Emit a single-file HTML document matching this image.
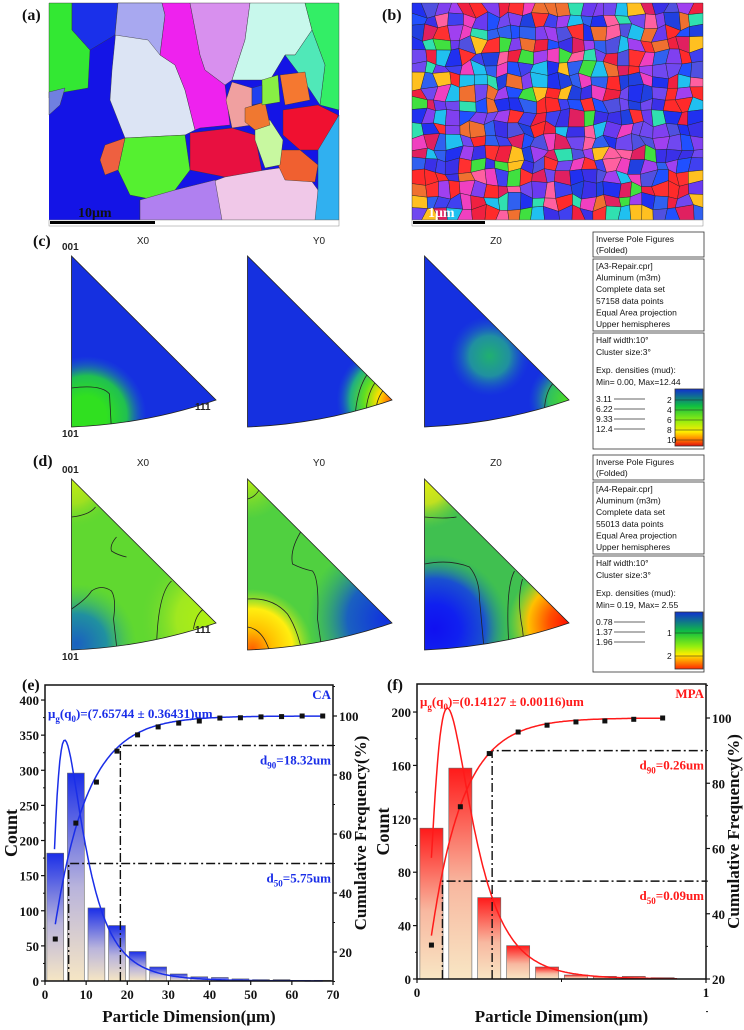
<!DOCTYPE html>
<html><head><meta charset="utf-8"><style>
html,body{margin:0;padding:0;background:#fff;}
svg{display:block;}
.lbl{font-family:"Liberation Serif",serif;font-weight:bold;}
.ss{font-family:"Liberation Sans",sans-serif;}
</style></head><body>
<svg id="fig" xmlns="http://www.w3.org/2000/svg" width="744" height="1030" viewBox="0 0 744 1030">
<defs>
<linearGradient id="gBlue" x1="0" y1="0" x2="0" y2="1"><stop offset="0" stop-color="#1a2ee8"/><stop offset="0.55" stop-color="#b9b4dc"/><stop offset="1" stop-color="#f6e6c4"/></linearGradient>
<linearGradient id="gRed" x1="0" y1="0" x2="0" y2="1"><stop offset="0" stop-color="#ff1a1a"/><stop offset="0.55" stop-color="#f8b8a0"/><stop offset="1" stop-color="#f8e6c4"/></linearGradient>
<linearGradient id="cbar1" x1="0" y1="0" x2="0" y2="1"><stop offset="0" stop-color="#1030d0"/><stop offset="0.3" stop-color="#10c040"/><stop offset="0.55" stop-color="#90ee10"/><stop offset="0.75" stop-color="#ffee00"/><stop offset="0.9" stop-color="#ff7000"/><stop offset="1" stop-color="#e01010"/></linearGradient>
<linearGradient id="cbar2" x1="0" y1="0" x2="0" y2="1"><stop offset="0" stop-color="#1030d0"/><stop offset="0.35" stop-color="#10c040"/><stop offset="0.6" stop-color="#90ee10"/><stop offset="0.75" stop-color="#ffee00"/><stop offset="1" stop-color="#ff2a00"/></linearGradient>
</defs>
<g id="mapA"></g>
<g id="mapB"></g>
<g id="ipf"></g>
<g id="chartE"></g>
<g id="chartF"></g>
</svg>
<script>
// ---- Chart (e) data ----
const eBinCenters = [2.5,7.5,12.5,17.5,22.5,27.5,32.5,37.5,42.5,47.5,52.5,57.5,62.5,67.5];
const eCounts = [182,296,104,79,42,20,10,6,5,3,2,2,1,1];
const eCumX = [2.5,7.5,12.5,17.5,22.5,27.5,32.5,37.5,42.5,47.5,52.5,57.5,62.5,67.5];
const eCumY = [24.4,63.7,77.6,88.1,93.6,96.3,97.6,98.3,99.3,99.4,99.7,99.8,100,100];
const eXTicks = [0,10,20,30,40,50,60,70];
const eYTicks = [0,50,100,150,200,250,300,350,400];
const eRTicks = [20,40,60,80,100];
const eD50 = 5.75, eD90 = 18.32;
// ---- Chart (f) data ----
const fBinCenters = [0.05,0.15,0.25,0.35,0.45,0.55,0.65,0.75,0.85];
const fCounts = [113,158,61,25,9,3,2,2,1];
const fCumX = [0.05,0.15,0.25,0.35,0.45,0.55,0.65,0.75,0.85];
const fCumY = [30.4,72.8,89.1,95.7,97.8,98.8,99.1,99.6,100];
const fXTicks = [0,1];
const fYTicks = [0,40,80,120,160,200];
const fRTicks = [20,40,60,80,100];
const fD50 = 0.088, fD90 = 0.26;

const NS='http://www.w3.org/2000/svg';
function mk(parent,tag,attrs,text){const e=document.createElementNS(NS,tag);for(const k in attrs)e.setAttribute(k,attrs[k]);if(text!==undefined)e.textContent=text;parent.appendChild(e);return e;}

let seed=12345;function rnd(){seed=(seed*16807)%2147483647;return seed/2147483647;}

const fig=document.getElementById('fig');
[['(a)',22,20],['(b)',382,20],['(c)',33,246],['(d)',33,466],['(e)',22,690],['(f)',387,690]].forEach(p=>{
 const t=mk(fig,'text',{x:p[1],y:p[2],class:'lbl','font-size':16,fill:'#111'},p[0]);
 
 
});

// ---------- map A ----------
const mA=document.getElementById('mapA');
mk(mA,'rect',{x:49,y:3,width:290,height:217,fill:'#1414e6'});
const grainsA=[
['49,3 72,3 72,30 90,50 88,88 65,92 49,98','#33e833'],
['72,3 118,3 115,35 90,50 72,30','#1a30ea'],
['49,92 65,88 60,105 49,115','#7080e0'],
['118,3 162,3 165,15 160,55 175,65 185,90 195,130 185,135 125,138 110,100 112,70 115,40','#dce4f4'],
['118,3 162,3 165,15 160,55 148,40 115,35','#a8a8f0'],
['162,3 190,3 200,55 205,70 225,85 230,125 200,128 195,130 185,90 175,65 160,55 165,15','#ee22ee'],
['190,3 250,3 245,40 232,80 225,85 205,70 200,55','#d890ee'],
['250,3 305,3 312,30 295,55 285,55 270,80 232,80 245,40','#c8f8ec'],
['305,3 339,3 339,110 320,105 325,65 312,30','#33ee66'],
['312,30 325,65 320,105 300,75 285,55 295,55','#50e8b8'],
['232,82 252,88 252,125 232,128 226,100','#f0a0a0'],
['190,133 232,128 255,135 262,172 225,177 190,170','#e81040'],
['125,138 185,135 190,170 175,190 155,200 130,195 118,170','#55f030'],
['105,145 125,138 118,170 105,175 100,160','#ee6040'],
['140,200 190,190 225,177 265,170 300,165 318,190 318,220 140,220','#f0c8e8'],
['140,200 175,190 215,180 222,220 140,220','#b080f0'],
['283,110 318,105 338,115 330,150 300,150 283,135','#f01030'],
['278,150 300,150 318,165 315,182 285,180 278,165','#f06030'],
['255,125 270,120 283,140 280,165 265,168 255,140','#c8f8a0'],
['280,75 305,72 310,100 285,105','#f57830'],
['245,108 265,102 270,125 255,130 245,122','#f07830'],
['262,80 278,75 280,102 262,105','#88ee44'],
['318,150 339,115 339,220 315,220 318,190','#30b0f0'],
['252,88 262,85 262,103 252,105','#2040f0']];
grainsA.forEach(g=>mk(mA,'polygon',{points:g[0],fill:g[1],stroke:'#333','stroke-width':0.4}));
mk(mA,'rect',{x:49,y:220,width:290,height:6,fill:'#fff',stroke:'#888','stroke-width':0.5});
mk(mA,'rect',{x:50,y:221,width:105,height:3,fill:'#000'});
mk(mA,'text',{x:78,y:217,class:'lbl','font-size':14,fill:'#111'},'10μm');

// ---------- map B ----------
const mB=document.getElementById('mapB');
const pal=['#2030f0','#4040f0','#6a3af0','#8040f0','#f02040','#ff3030','#f040c0','#ff60a0','#3060f0','#f07030','#20c0f0','#40e040','#a040f0','#2050ff','#e02060','#ffc020','#30e0b0','#5050e0','#3a30e8','#7048f0','#ff2a2a','#2040e0'];
mk(mB,'rect',{x:412,y:3,width:291,height:217,fill:'#3040e0'});
const nx=24,ny=18,cw=291/nx,ch=217/ny;const V=[];
for(let j=0;j<=ny;j++){V[j]=[];for(let i=0;i<=nx;i++){let x=412+i*cw,y=3+j*ch;if(i>0&&i<nx)x+=(rnd()-0.5)*cw*0.6;if(j>0&&j<ny)y+=(rnd()-0.5)*ch*0.6;V[j][i]=[x,y];}}
for(let j=0;j<ny;j++)for(let i=0;i<nx;i++){
 const c=pal[Math.floor(rnd()*pal.length)];
 const p=[V[j][i],V[j][i+1],V[j+1][i+1],V[j+1][i]].map(v=>v[0].toFixed(1)+','+v[1].toFixed(1)).join(' ');
 mk(mB,'polygon',{points:p,fill:c,stroke:'#222','stroke-width':0.4});
}
mk(mB,'rect',{x:412,y:220,width:291,height:6,fill:'#fff',stroke:'#888','stroke-width':0.5});
mk(mB,'rect',{x:413,y:221,width:72,height:3,fill:'#000'});
mk(mB,'text',{x:428,y:217,class:'lbl','font-size':14,fill:'#fff'},'1μm');

// ---------- IPF ----------
const ipf=document.getElementById('ipf');
function tri(ox,oy){return `M${ox},${oy} L${ox+144.5},${oy+144} Q${ox+75},${oy+168} ${ox},${oy+171} Z`;}
let cid=0;
function drawTri(ox,oy,base,blobs,cont){
 const id='clip'+(cid++);
 const cp=mk(ipf,'clipPath',{id:id});mk(cp,'path',{d:tri(ox,oy)});
 const g=mk(ipf,'g',{'clip-path':`url(#${id})`});
 mk(g,'rect',{x:ox,y:oy,width:150,height:175,fill:base});
 blobs.forEach(b=>{
  const gid='rg'+(cid++);
  const rg=mk(ipf,'radialGradient',{id:gid});
  b[3].forEach((c,k)=>mk(rg,'stop',{offset:(k/(b[3].length-1)).toFixed(2),'stop-color':c,'stop-opacity':k==b[3].length-1?0:1}));
  mk(g,'circle',{cx:ox+b[0],cy:oy+b[1],r:b[2],fill:`url(#${gid})`});
 });
 (cont||[]).forEach(d=>mk(g,'path',{d:d,fill:'none',stroke:'#222','stroke-width':0.8,transform:`translate(${ox},${oy})`}));
 mk(ipf,'path',{d:tri(ox,oy),fill:'none',stroke:'#222','stroke-width':0.8});
}
const cy0=256, dy0=479, offs=[0,176,353];
drawTri(71.5,cy0,'#1530e0',[[15,160,60,['#30e020','#30e020','#20c050','#1a60d0']]],['M0,132 Q30,128 38,138 L40,175']);
drawTri(71.5+176,cy0,'#1530e0',[[144,144,18,['#ff2000','#ff8000','#ffee00']],[144,144,55,['#ff6000','#ffe000','#60e020','#20b080','#1a50d0']]],
 ['M120,118 Q108,135 107,170','M128,126 Q118,140 118,165','M136,134 Q128,144 128,160']);
drawTri(71.5+353,cy0,'#1530e0',[[65,100,40,['#20b070','#2090a0','#1a50d0']],[144,144,40,['#50e020','#30c060','#1a60d0']]],['M128,128 Q118,140 120,170']);
drawTri(71.5,dy0,'#60d830',[[0,0,50,['#c0ee10','#a0e020','#60d830']],[5,165,60,['#1a60c0','#2090a0','#40c060']],[140,140,70,['#b0f010','#a0e820','#70d830']]],
 ['M0,38 Q18,36 24,28','M45,58 Q38,66 40,72 Q46,76 55,78','M0,130 Q15,120 20,112 Q30,105 40,112 Q45,120 42,140 L46,175','M100,102 Q86,115 85,170','M132,130 Q124,136 122,150']);
drawTri(71.5+176,dy0,'#50d040',[[0,0,40,['#c0ee10','#90e020']],[5,170,60,['#ff6000','#ffc000','#ffee10','#b0e820']],[140,140,80,['#1030e0','#1a60c0','#20a080']]],
 ['M0,20 Q8,18 12,10','M55,50 Q42,70 45,85 Q55,90 65,92 Q72,100 70,140 L75,175','M0,120 Q25,118 40,135 Q50,150 55,175','M0,148 Q15,150 22,172']);
drawTri(71.5+353,dy0,'#40c050',[[0,0,50,['#e0ee10','#c0e020','#60d040']],[10,150,75,['#1010f0','#1020f0','#1a50d0','#20a080']],[144,144,60,['#ff1000','#ff5000','#ffc000','#b0e820']]],
 ['M0,38 Q20,40 32,38','M0,85 Q25,80 45,88 Q55,100 55,120 L60,175','M90,92 Q80,110 85,175','M98,100 Q92,120 98,150 L100,170']);
['X0','Y0','Z0'].forEach((t,k)=>{
 mk(ipf,'text',{x:143+offs[k],y:244,class:'ss','font-size':10,fill:'#222','text-anchor':'middle'},t);
 mk(ipf,'text',{x:143+offs[k],y:466,class:'ss','font-size':10,fill:'#222','text-anchor':'middle'},t);
});
mk(ipf,'text',{x:62,y:250,class:'ss','font-size':10,'font-weight':'bold',fill:'#222'},'001');
mk(ipf,'text',{x:62,y:473,class:'ss','font-size':10,'font-weight':'bold',fill:'#222'},'001');
mk(ipf,'text',{x:62,y:437,class:'ss','font-size':10,'font-weight':'bold',fill:'#222'},'101');
mk(ipf,'text',{x:62,y:660,class:'ss','font-size':10,'font-weight':'bold',fill:'#222'},'101');
mk(ipf,'text',{x:195,y:410,class:'ss','font-size':10,'font-weight':'bold',fill:'#222'},'111');
mk(ipf,'text',{x:195,y:633,class:'ss','font-size':10,'font-weight':'bold',fill:'#222'},'111');
function legend(y0,file,pts,minmax,levels,cb,cbLabels){
 const g=mk(ipf,'g',{});
 
 
 const T=(x,y,s)=>mk(g,'text',{x:x,y:y,class:'ss','font-size':8.5,fill:'#111'},s);
 mk(g,'rect',{x:593,y:y0,width:111,height:25,fill:'#fff',stroke:'#333','stroke-width':0.8});
 T(596,y0+10,'Inverse Pole Figures');T(596,y0+21,'(Folded)');
 mk(g,'rect',{x:593,y:y0+27,width:111,height:72,fill:'#fff',stroke:'#333','stroke-width':0.8});
 [file,'Aluminum (m3m)','Complete data set',pts+' data points','Equal Area projection','Upper hemispheres'].forEach((s,k)=>T(596,y0+37+k*11.6,s));
 mk(g,'rect',{x:593,y:y0+101,width:111,height:116,fill:'#fff',stroke:'#333','stroke-width':0.8});
 T(596,y0+111,'Half width:10°');T(596,y0+123,'Cluster size:3°');T(596,y0+141,'Exp. densities (mud):');T(596,y0+153,minmax);
 levels.forEach((s,k)=>{T(596,y0+170+k*10,s);mk(g,'line',{x1:614,x2:645,y1:y0+167+k*10,y2:y0+167+k*10,stroke:'#333','stroke-width':0.8});});
 mk(g,'rect',{x:675,y:y0+157,width:28,height:57,fill:cb,stroke:'#333','stroke-width':0.8});
 cbLabels.forEach(l=>{T(667,y0+157+l[1]+3,l[0]);mk(g,'line',{x1:675,x2:703,y1:y0+157+l[1],y2:y0+157+l[1],stroke:'#222','stroke-width':0.6});});
}
legend(232,'[A3-Repair.cpr]','57158','Min= 0.00, Max=12.44',['3.11','6.22','9.33','12.4'],'url(#cbar1)',[['2',11],['4',21],['6',31],['8',41],['10',51]]);
legend(455,'[A4-Repair.cpr]','55013','Min= 0.19, Max= 2.55',['0.78','1.37','1.96'],'url(#cbar2)',[['1',21],['2',44]]);

// ---------- charts ----------
function chart(gid,o){
 const G=document.getElementById(gid);
 const X=v=>o.x0+(v-o.xmin)/(o.xmax-o.xmin)*(o.x1-o.x0);
 const YL=v=>o.y1-v/o.lmax*(o.y1-o.ylTop);
 const YR=v=>o.yr100+(100-v)*o.rpx;
 const col=o.color;
 o.centers.forEach((c,i)=>{
  const r=mk(G,'rect',{x:X(c-o.bw/2),y:YL(o.counts[i]),width:X(c+o.bw/2)-X(c-o.bw/2),height:o.y1-YL(o.counts[i]),fill:o.grad,stroke:'#666','stroke-width':0.6});
  
  
 });
 const dd={stroke:'#111','stroke-width':1.4,'stroke-dasharray':'9,3,2,3',fill:'none'};
 [[o.d50,50],[o.d90,90]].forEach(d=>{
  mk(G,'path',Object.assign({d:`M${X(d[0])},${o.y1} L${X(d[0])},${YR(d[1])} L${o.x1},${YR(d[1])}`},dd));
 });
 let p='';for(let k=0;k<=200;k++){const x=o.cStart+(o.cEnd-o.cStart)*k/200;const v=o.pk*Math.exp(-Math.pow(Math.log(x/o.xc),2)/(2*o.w*o.w));p+=(k?'L':'M')+X(x).toFixed(1)+','+YL(v).toFixed(1);}
 const pc=mk(G,'path',{d:p,fill:'none',stroke:col,'stroke-width':1.5});
 
 
 let q='';for(let k=0;k<=200;k++){const x=o.cumX[0]+(o.cumX[o.cumX.length-1]-o.cumX[0])*k/200;const v=100-80*Math.exp(-(x-o.cOff)/o.cScale);q+=(k?'L':'M')+X(x).toFixed(1)+','+YR(v).toFixed(1);}
 const cc=mk(G,'path',{d:q,fill:'none',stroke:col,'stroke-width':1.5});
 
 
 o.cumX.forEach((x,i)=>{
  const m=mk(G,'rect',{x:X(x)-2.5,y:YR(o.cumY[i])-2.5,width:5,height:5,fill:'#111'});
  
  
 });
 mk(G,'rect',{x:o.x0,y:o.ylTop,width:o.x1-o.x0,height:o.y1-o.ylTop,fill:'none',stroke:'#111','stroke-width':1.5});
 const tf={class:'lbl','font-size':13,fill:'#111'};
 o.xticks.forEach(t=>{mk(G,'line',{x1:X(t),x2:X(t),y1:o.y1,y2:o.y1+4,stroke:'#111','stroke-width':1.2});
  const e=mk(G,'text',Object.assign({x:X(t),y:o.y1+18,'text-anchor':'middle'},tf),String(t));});
 if(o.xminor)o.xminor.forEach(t=>mk(G,'line',{x1:X(t),x2:X(t),y1:o.y1,y2:o.y1+3,stroke:'#111','stroke-width':1}));
 o.yticks.forEach((t,k)=>{mk(G,'line',{x1:o.x0-4,x2:o.x0,y1:YL(t),y2:YL(t),stroke:'#111','stroke-width':1.2});
  if(k<o.yticks.length-1){const m=(t+o.yticks[k+1])/2;mk(G,'line',{x1:o.x0-2,x2:o.x0,y1:YL(m),y2:YL(m),stroke:'#111','stroke-width':1});}
  const e=mk(G,'text',Object.assign({x:o.x0-6,y:YL(t)+5,'text-anchor':'end'},tf),String(t));});
 o.rticks.forEach((t,k)=>{mk(G,'line',{x1:o.x1,x2:o.x1+4,y1:YR(t),y2:YR(t),stroke:'#111','stroke-width':1.2});
  const m=t+10;mk(G,'line',{x1:o.x1,x2:o.x1+2,y1:YR(m),y2:YR(m),stroke:'#111','stroke-width':1});
  if(k==0)mk(G,'line',{x1:o.x1,x2:o.x1+2,y1:YR(t-10),y2:YR(t-10),stroke:'#111','stroke-width':1});
  const e=mk(G,'text',Object.assign({x:o.x1+6,y:YR(t)+5},tf),String(t));});
 const xt=mk(G,'text',{x:(o.x0+o.x1)/2,y:1022,class:'lbl','font-size':17,fill:'#111','text-anchor':'middle'},'Particle Dimension(μm)');
 
 const yt=mk(G,'text',{x:0,y:0,class:'lbl','font-size':18,fill:'#111','text-anchor':'middle',transform:`translate(${o.x0-28},${(o.ylTop+o.y1)/2}) rotate(-90)`},'Count');
 
 const rt=mk(G,'text',{x:0,y:0,class:'lbl','font-size':17,fill:'#111','text-anchor':'middle',transform:`translate(${o.x1+33},${(o.ylTop+o.y1)/2}) rotate(-90)`},'Cumulative Frequency(%)');
 
 const at={class:'lbl',fill:col};
 mk(G,'text',Object.assign({x:o.x1-2,y:o.ylTop+14,'text-anchor':'end','font-size':13},at),o.tag);
 const mu=mk(G,'text',Object.assign({x:o.x0+3,y:o.muY,'font-size':13},at));
 mk(mu,'tspan',{},'μ');mk(mu,'tspan',{'font-size':9,dy:4},'g');mk(mu,'tspan',{dy:-4},'(q');mk(mu,'tspan',{'font-size':9,dy:4},'0');mk(mu,'tspan',{dy:-4},')='+o.mu);
 [[o.d90Txt,'90',YR(90)+19],[o.d50Txt,'50',YR(50)+19]].forEach(a=>{
  const t=mk(G,'text',Object.assign({x:o.x1-2,y:a[2],'text-anchor':'end','font-size':13},at));
  mk(t,'tspan',{},'d');mk(t,'tspan',{'font-size':9,dy:4},a[1]);mk(t,'tspan',{dy:-4},'='+a[0]);
 });
}
chart('chartE',{x0:45,x1:333,y1:981,ylTop:685,xmin:0,xmax:70,lmax:421.4,yr100:716,rpx:2.95,color:'#1a2ee8',grad:'url(#gBlue)',
 centers:eBinCenters,counts:eCounts,bw:4.1,cumX:eCumX,cumY:eCumY,xticks:eXTicks,yticks:eYTicks,rticks:eRTicks,d50:eD50,d90:eD90,
 pk:343,xc:4.8,w:0.67,cStart:2.3,cEnd:67.5,cOff:1.5,cScale:8,tag:'CA',muY:718,mu:'(7.65744 ± 0.36431)um',d90Txt:'18.32um',d50Txt:'5.75um'});
chart('chartF',{x0:417,x1:706,y1:979,ylTop:684,xmin:0,xmax:1,lmax:221,yr100:718,rpx:3.2625,color:'#ff1a1a',grad:'url(#gRed)',
 centers:fBinCenters,counts:fCounts,bw:0.08,cumX:fCumX,cumY:fCumY,xticks:fXTicks,xminor:[0.5],yticks:fYTicks,rticks:fRTicks,d50:fD50,d90:fD90,
 pk:203,xc:0.105,w:0.585,cStart:0.05,cEnd:0.9,cOff:0.03,cScale:0.11,tag:'MPA',muY:706,mu:'(0.14127 ± 0.00116)um',d90Txt:'0.26um',d50Txt:'0.09um'});
</script>
</body></html>
